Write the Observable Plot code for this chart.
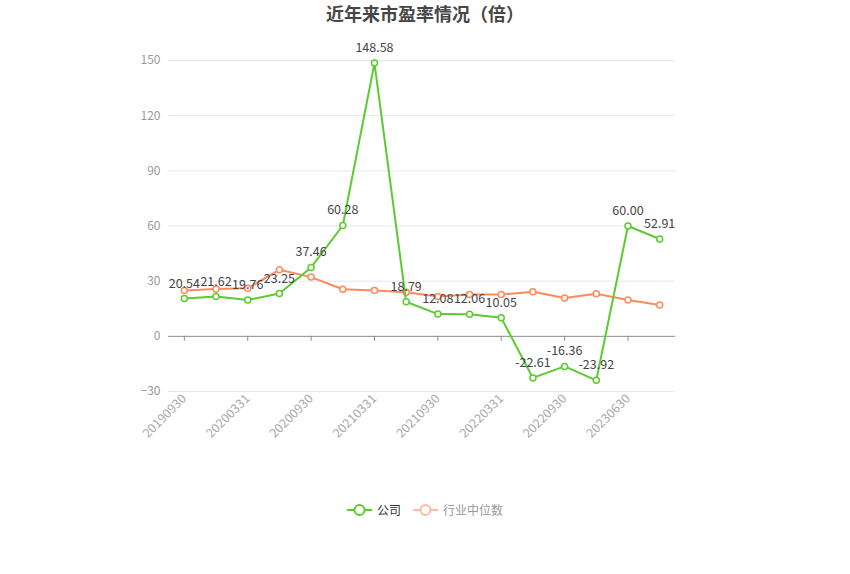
<!DOCTYPE html>
<html>
<head>
<meta charset="utf-8">
<script src="https://cdn.jsdelivr.net/npm/d3@7"></script>
<script src="https://cdn.jsdelivr.net/npm/@observablehq/plot@0.6"></script>
<style>
  body { margin: 0; background: #fff; font-family: "Noto Sans CJK SC", "Noto Sans", sans-serif; }
  #wrap { position: relative; width: 850px; height: 574px; }
  #title { position: absolute; left: 0; top: 1px; width: 850px; text-align: center; font-size: 18px; font-weight: bold; color: #464646; line-height: 24px; }
  #chart { position: absolute; left: 0; top: 30px; }
  #legend { position: absolute; left: 0; top: 500px; width: 850px; display: flex; justify-content: center; gap: 12px; font-size: 12px; line-height: 20px; }
  .item { display: flex; align-items: center; gap: 5px; }
</style>
</head>
<body>
<div id="wrap">
  <div id="title">近年来市盈率情况（倍）</div>
  <div id="chart"></div>
  <div id="legend"></div>
</div>
<script>
const dates = ["20190930","20191231","20200331","20200630","20200930","20201231","20210331","20210630","20210930","20211231","20220331","20220630","20220930","20221231","20230630","20230930"];
const company = [20.54,21.62,19.76,23.25,37.46,60.28,148.58,18.79,12.08,12.06,10.05,-22.61,-16.36,-23.92,60.00,52.91];
const industry = [24.9,25.8,26.2,36.2,32.2,25.6,24.9,24.0,21.6,22.7,22.7,24.2,20.9,23.1,19.8,17.1];
const tickLabels = ["20190930","20200331","20200930","20210331","20210930","20220331","20220930","20230630"];
const yTicks = [-30,0,30,60,90,120,150];
const seriesNames = ["公司","行业中位数"];
const colors = ["#5ccb2f","#fd8a5b"];
const legendColors = ["#5ccb2f","#fdbba0"];
const legendText = ["#333","#999"];

const comp = dates.map((d,i) => ({date: d, value: company[i]}));
const ind = dates.map((d,i) => ({date: d, value: industry[i]}));

const chart = Plot.plot({
  width: 850,
  height: 470,
  marginLeft: 168,
  marginRight: 175,
  marginTop: 30,
  marginBottom: 109,
  style: {fontFamily: "'Noto Sans CJK SC', sans-serif", fontSize: "12px", background: "transparent"},
  x: {type: "point", domain: dates, padding: 0.5, round: false, label: null},
  y: {domain: [-30,150], label: null},
  marks: [
    Plot.ruleY(yTicks.filter(v => v !== 0), {stroke: "#e3e7f3", strokeWidth: 1}),
    Plot.ruleY([0], {stroke: "#8c8c8c", strokeWidth: 1}),
    Plot.ruleX(tickLabels, {x: d => d, y1: 0, y2: 0, insetBottom: -5, stroke: "#8c8c8c"}),
    Plot.axisY({ticks: yTicks, tickSize: 0, tickPadding: 8, label: null, color: "#999", fontSize: 12}),
    Plot.axisX({ticks: tickLabels, tickSize: 0, tickPadding: 5, tickRotate: -45, label: null, color: "#aaa", fontSize: 12.5}),
    Plot.line(ind, {x: "date", y: "value", stroke: colors[1], strokeWidth: 2}),
    Plot.dot(ind, {x: "date", y: "value", r: 3, fill: "white", stroke: colors[1], strokeWidth: 1.5}),
    Plot.line(comp, {x: "date", y: "value", stroke: colors[0], strokeWidth: 2}),
    Plot.dot(comp, {x: "date", y: "value", r: 3, fill: "white", stroke: colors[0], strokeWidth: 1.5}),
    Plot.text(comp, {x: "date", y: "value", text: d => d.value.toFixed(2), dy: -15, fill: "#444", fontSize: 12.5})
  ]
});
document.getElementById("chart").appendChild(chart);

const legend = document.getElementById("legend");
seriesNames.forEach((name, i) => {
  const item = document.createElement("div");
  item.className = "item";
  item.innerHTML = `<svg width="25" height="14"><line x1="0" y1="7" x2="25" y2="7" stroke="${legendColors[i]}" stroke-width="2"/><circle cx="12.5" cy="7" r="5" fill="white" stroke="${legendColors[i]}" stroke-width="2"/></svg><span style="color:${legendText[i]}">${name}</span>`;
  legend.appendChild(item);
});
</script>
</body>
</html>
